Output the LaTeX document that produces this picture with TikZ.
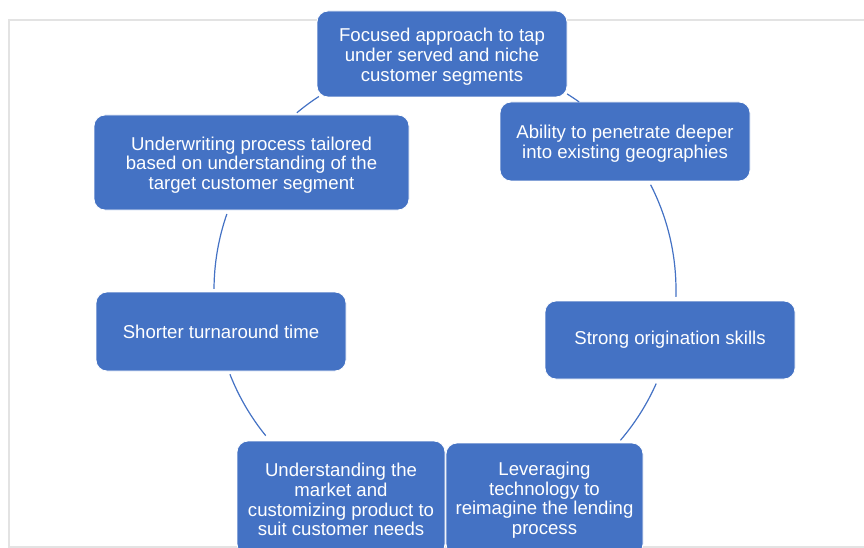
\documentclass[tikz,border=0pt]{standalone}
\usepackage{fontspec}
\setmainfont{Liberation Sans}
\definecolor{acc}{HTML}{4472C4}
\definecolor{framegray}{HTML}{E3E3E3}
\newcommand{\firststrut}[1]{\rule{0pt}{#1}}
\begin{document}
\begin{tikzpicture}[x=1pt,y=1pt,
  box/.style={draw=white, line width=0.8pt, fill=acc, rounded corners=11pt, text=white,
    align=center, font=\fontsize{18.6}{19.8}\selectfont, inner sep=0pt},
  conn/.style={draw=acc, line width=1.2pt},
  frameline/.style={draw=framegray, line width=1.8pt}]
\clip (0,0) rectangle (864,-548);
\draw[frameline] (9,-20) rectangle (880,-547);
\node[box, minimum width=250pt, minimum height=86pt] (n1) at (442,-54) {\firststrut{18.5pt}Focused approach to tap\\under served and niche\\customer segments};
\node[box, minimum width=250pt, minimum height=79pt] (n2) at (625,-141.5) {\firststrut{18.5pt}Ability to penetrate deeper\\into existing geographies};
\node[box, minimum width=250pt, minimum height=78pt] (n3) at (670,-340) {Strong origination skills};
\node[box, minimum width=197pt, minimum height=112pt] (n4) at (544.5,-499) {\firststrut{16pt}Leveraging\\technology to\\reimagine the lending\\process};
\node[box, minimum width=208pt, minimum height=114pt] (n5) at (341,-498) {\firststrut{16.5pt}Understanding the\\market and\\customizing product to\\suit customer needs};
\node[box, minimum width=250pt, minimum height=79pt] (n6) at (221,-331.5) {Shorter turnaround time};
\node[box, minimum width=315pt, minimum height=95pt] (n7) at (251.5,-162.5) {\firststrut{18.5pt}Underwriting process tailored\\based on understanding of the\\target customer segment};
\coordinate (O) at (445,-290);
\draw[conn] ([shift={(58.1:231pt)}]O) arc[start angle=58.1, end angle=54.5, radius=231pt];
\draw[conn] ([shift={(27.1:231pt)}]O) arc[start angle=27.1, end angle=-1.7, radius=231pt];
\draw[conn] ([shift={(-23.9:231pt)}]O) arc[start angle=-23.9, end angle=-40.6, radius=231pt];
\draw[conn] ([shift={(219.1:231pt)}]O) arc[start angle=219.1, end angle=201.4, radius=231pt];
\draw[conn] ([shift={(179.7:231pt)}]O) arc[start angle=179.7, end angle=160.8, radius=231pt];
\draw[conn] ([shift={(129.9:231pt)}]O) arc[start angle=129.9, end angle=123.1, radius=231pt];
\end{tikzpicture}
\end{document}
